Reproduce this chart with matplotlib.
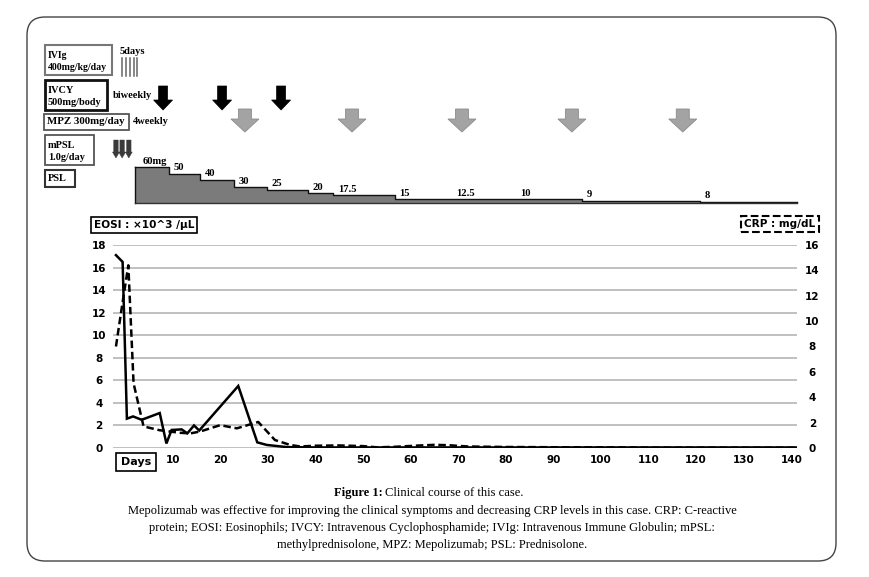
import matplotlib
matplotlib.use('Agg')
import matplotlib.pyplot as plt
from matplotlib.patches import FancyBboxPatch, Rectangle, Polygon

# EOSI (x10^3/uL), solid line, left axis
eosi_day = [-1.9, -0.5, 0.4, 1.7, 3.5, 7.3, 8.7, 9.8, 11.9, 13.1, 14.5, 15.6,
            23.8, 27.8, 29.8, 34.0, 40, 60, 80, 100, 120, 141]
eosi_val = [17.1, 16.5, 2.6, 2.8, 2.5, 3.1, 0.4, 1.6, 1.65, 1.3, 2.0, 1.55,
            5.5, 0.5, 0.27, 0.08, 0.05, 0.05, 0.05, 0.05, 0.05, 0.05]

# CRP (mg/dL), dashed line, right axis
crp_day = [-1.9, -0.5, 0.7, 1.8, 3.9, 7.3, 11.5, 13.7, 15.8, 20.0, 23.5, 28.0,
           31.5, 34.7, 36.8, 40, 45, 50, 53, 57, 62, 65, 68, 72, 80, 90, 100,
           110, 141]
crp_val = [8.0, 11.5, 14.4, 5.1, 1.7, 1.4, 1.2, 1.15, 1.3, 1.8, 1.55, 2.05,
           0.63, 0.24, 0.12, 0.18, 0.2, 0.15, 0.05, 0.1, 0.2, 0.25, 0.22, 0.12,
           0.08, 0.06, 0.05, 0.03, 0.02]

# treatment schedule (days)
ivig_day = [-0.6, 0.2, 1.0, 1.8, 2.6]
ivcy_day = [8.0, 20.4, 32.8]
mpz_day = [25.2, 47.7, 70.8, 93.9, 117.2]
mpsl_day = [-1.9, -0.6, 0.8]

# PSL taper (schematic)
psl_label = ['60mg', '50', '40', '30', '25', '20', '17.5', '15', '12.5', '10', '9', '8']
psl_start = [2.1, 9.3, 15.8, 22.8, 29.8, 38.5, 43.8, 56.7, 68.5, 82.0, 96.0, 120.8]
psl_level = [36, 29, 23, 16, 13, 10, 8, 4, 4, 4, 2.5, 1.5]
psl_end = 141.2

x_ticks = list(range(10, 150, 10))
eosi_ticks = list(range(0, 20, 2))
crp_ticks = list(range(0, 18, 2))

W, H = 870, 577
XMIN, XMAX = -2.52, 141.2
PX_PER_DAY = 684 / (XMAX - XMIN)
SERIF = 'Liberation Serif'
SANS = 'DejaVu Sans'

fig = plt.figure(figsize=(W / 100, H / 100), dpi=100)
fig.patch.set_facecolor('white')

# pixel overlay for frame, boxes, caption
pax = fig.add_axes([0, 0, 1, 1])
pax.set_xlim(0, W)
pax.set_ylim(H, 0)
pax.axis('off')

pax.add_patch(FancyBboxPatch((27, 17), 809, 544, boxstyle='round,pad=0,rounding_size=18',
                             fc='none', ec='#444444', lw=1))

def box(x, y, w, h, lines, ec='#222222', lw=1.2, size=7.4):
    pax.add_patch(Rectangle((x, y), w, h, fc='white', ec=ec, lw=lw))
    if len(lines) == 1:
        pax.text(x + 3, y + h / 2, lines[0], ha='left', va='center', fontsize=size,
                 family=SERIF, fontweight='bold')
    else:
        for i, ln in enumerate(lines):
            pax.text(x + 3, y + 10.5 + 12 * i, ln, ha='left', va='center', fontsize=size,
                     family=SERIF, fontweight='bold')

box(45, 45, 67, 30, ['IVIg', '400mg/kg/day'], ec='#777777', lw=1.5, size=7.1)
box(45, 80, 62, 30, ['IVCY', '500mg/body'], ec='#111111', lw=2)
box(44, 114, 85, 16, ['MPZ 300mg/day'], ec='#555555', lw=1.3, size=7.8)
box(45, 135, 49, 30, ['mPSL', '1.0g/day'], ec='#555555', lw=1.3)
box(45, 170, 30, 17, ['PSL'], ec='#333333', lw=1.5)

pax.text(120, 51, '5days', fontsize=7.5, family=SERIF, fontweight='bold', va='center')
pax.text(113, 96, 'biweekly', fontsize=7.5, family=SERIF, fontweight='bold', va='center')
pax.text(133, 122, '4weekly', fontsize=7.5, family=SERIF, fontweight='bold', va='center')

pax.text(144, 225, 'EOSI : \u00d710^3 /\u03bcL', ha='center', va='center', fontsize=7.6,
         family=SANS, fontweight='bold',
         bbox=dict(boxstyle='square,pad=0.3', fc='white', ec='black', lw=1.2))
pax.text(780, 224, 'CRP : mg/dL', ha='center', va='center', fontsize=7.6,
         family=SANS, fontweight='bold',
         bbox=dict(boxstyle='square,pad=0.3', fc='white', ec='black', lw=1.5, ls='--'))
pax.text(136, 462, 'Days', ha='center', va='center', fontsize=8,
         family=SANS, fontweight='bold',
         bbox=dict(boxstyle='square,pad=0.4', fc='white', ec='black', lw=1.2))

# caption
pax.text(383, 493, 'Figure 1:', ha='right', va='center', fontsize=9, family=SERIF, fontweight='bold')
pax.text(385, 493, 'Clinical course of this case.', ha='left', va='center', fontsize=9, family=SERIF)
caption = ['Mepolizumab was effective for improving the clinical symptoms and decreasing CRP levels in this case. CRP: C-reactive',
           'protein; EOSI: Eosinophils; IVCY: Intravenous Cyclophosphamide; IVIg: Intravenous Immune Globulin; mPSL:',
           'methylprednisolone, MPZ: Mepolizumab; PSL: Prednisolone.']
for i, line in enumerate(caption):
    pax.text(432, 511 + 17 * i, line, ha='center', va='center', fontsize=9, family=SERIF)

# schedule axes: x in days, y in pixels
sax = fig.add_axes([113 / W, 0, 684 / W, 1])
sax.set_xlim(XMIN, XMAX)
sax.set_ylim(H, 0)
sax.axis('off')

def block_arrow(xc, y0, y1, shaft_w, head_w, head_len, **kw):
    sw = shaft_w / 2 / PX_PER_DAY
    hw = head_w / 2 / PX_PER_DAY
    yh = y1 - head_len
    pts = [(xc - sw, y0), (xc + sw, y0), (xc + sw, yh), (xc + hw, yh),
           (xc, y1), (xc - hw, yh), (xc - sw, yh)]
    sax.add_patch(Polygon(pts, closed=True, clip_on=False, **kw))

for d in ivig_day:
    sax.plot([d, d], [58, 76], color='#666666', lw=1.1, clip_on=False)
for d in ivcy_day:
    block_arrow(d, 86, 110, 9, 19, 10, fc='black', ec='black', lw=0.5)
for d in mpz_day:
    block_arrow(d, 109, 132, 13, 28, 13, fc='#a3a3a3', ec='#8c8c8c', lw=0.6)
for d in mpsl_day:
    block_arrow(d, 140, 158, 4.5, 7, 6, fc='#3a3a3a', ec='#3a3a3a', lw=0.3)

baseline = 203
xs = psl_start + [psl_end]
tops = [baseline - lv for lv in psl_level] + [baseline - psl_level[-1]]
sax.fill_between(xs, tops, baseline, step='post', color='#7b7b7b', lw=0, clip_on=False)
sax.step(xs, tops, where='post', color='#111111', lw=1, clip_on=False)
sax.plot([xs[0], xs[0]], [tops[0], baseline], color='#111111', lw=1, clip_on=False)
sax.plot([xs[0], psl_end], [baseline, baseline], color='#333333', lw=1, clip_on=False)
for lab, d, lv in zip(psl_label, psl_start, psl_level):
    off = 1.6 if lab == '60mg' else 1.0
    sax.text(d + off, baseline - lv - 1.5, lab, ha='left', va='bottom', fontsize=7.6,
             family=SERIF, fontweight='bold')

# main chart
ax = fig.add_axes([113 / W, (H - 448) / H, 684 / W, 203 / H])
ax.set_facecolor('none')
ax.set_xlim(XMIN, XMAX)
ax.set_ylim(0, 18)
ax.set_yticks(eosi_ticks)
ax.set_xticks(x_ticks)
ax.set_xticklabels([str(t) for t in x_ticks])
for s in ax.spines.values():
    s.set_visible(False)
ax.grid(axis='y', color='#b5b5b5', lw=1.2)
ax.set_axisbelow(True)
ax.tick_params(axis='both', length=0, labelsize=7.5)
ax.tick_params(axis='y', pad=10)
ax.tick_params(axis='x', pad=5)
for t in ax.get_yticklabels():
    t.set_ha('center')
    t.set_fontweight('bold')
for t in ax.get_xticklabels():
    t.set_fontweight('bold')

ax.plot(eosi_day, eosi_val, color='black', lw=1.8, solid_joinstyle='miter')

ax2 = ax.twinx()
ax2.set_ylim(0, 16)
ax2.set_yticks(crp_ticks)
for s in ax2.spines.values():
    s.set_visible(False)
ax2.tick_params(axis='y', length=0, labelsize=7.5, pad=11)
for t in ax2.get_yticklabels():
    t.set_ha('center')
    t.set_fontweight('bold')
ax2.plot(crp_day, crp_val, color='black', lw=1.8, ls=(0, (3, 1.5)))

fig.savefig('out.png', dpi=100, facecolor='white')
